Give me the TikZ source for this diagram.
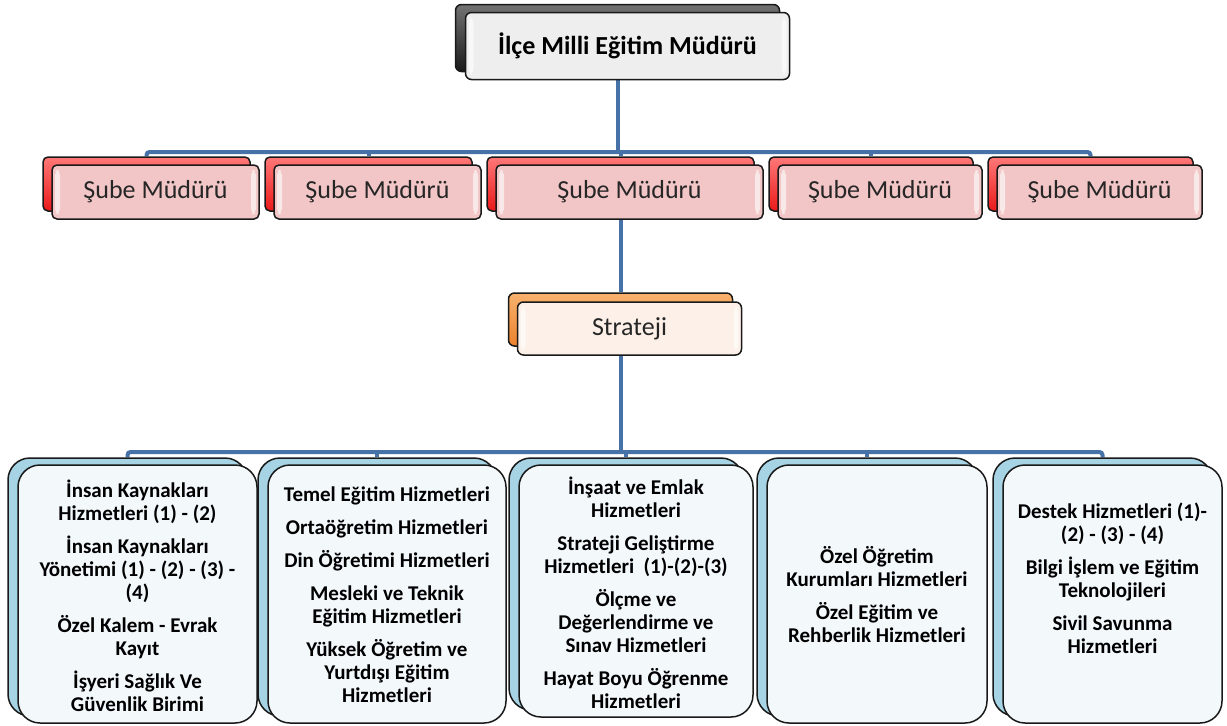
\documentclass[tikz,border=0pt]{standalone}
\usepackage{fontspec}
\setmainfont{Carlito}
\usetikzlibrary{backgrounds}
\definecolor{connc}{RGB}{70,114,168}
\definecolor{topfill}{RGB}{238,238,238}
\definecolor{redtop}{RGB}{255,120,120}
\definecolor{redbot}{RGB}{235,25,25}
\definecolor{pinkfill}{RGB}{242,198,198}
\definecolor{orgtop}{RGB}{248,178,110}
\definecolor{orgbot}{RGB}{236,130,45}
\definecolor{peachfill}{RGB}{252,240,232}
\definecolor{bluefill}{RGB}{166,212,228}
\definecolor{icefill}{RGB}{243,248,251}
\definecolor{rim}{RGB}{25,25,25}
\tikzset{
  boxbase/.style={draw=rim, line width=1.5pt, inner sep=0pt, anchor=center},
  bevel/.style={path picture={
     \fill[white,opacity=.6] ([xshift=3pt,yshift=-5pt]path picture bounding box.north west) rectangle ([xshift=8pt,yshift=5pt]path picture bounding box.south west);
     \fill[white,opacity=.6] ([xshift=-3pt,yshift=-5pt]path picture bounding box.north east) rectangle ([xshift=-8pt,yshift=5pt]path picture bounding box.south east);}},
  topback/.style={boxbase, rounded corners=6pt, top color=black!55, bottom color=black!90},
  topfront/.style={boxbase, rounded corners=6pt, fill=topfill, bevel, text=black,
     font=\fontsize{26}{30}\selectfont\bfseries},
  subeback/.style={boxbase, rounded corners=5pt, top color=redtop, bottom color=redbot},
  subefront/.style={boxbase, rounded corners=5pt, fill=pinkfill, bevel, text=black!85,
     font=\fontsize{26}{30}\selectfont},
  strback/.style={boxbase, rounded corners=6pt, top color=orgtop, bottom color=orgbot},
  strfront/.style={boxbase, rounded corners=6pt, fill=peachfill, bevel, text=black!85,
     font=\fontsize{26}{30}\selectfont},
  botback/.style={boxbase, rounded corners=22pt, fill=bluefill},
  botfront/.style={boxbase, rounded corners=22pt, fill=icefill},
  bottext/.style={inner sep=0pt, align=center, text=black, font=\fontsize{21}{23}\selectfont\bfseries},
  connector/.style={draw=connc, line width=4pt, rounded corners=3pt},
}
\begin{document}
\begin{tikzpicture}[x=1pt,y=-1pt]
\useasboundingbox (0,0) rectangle (1227,726);
% top
\node[topback, minimum width=324pt, minimum height=67pt] (tb) at (617.5,38) {};
\node[topfront, minimum width=324pt, minimum height=67pt] (tf) at (627.5,46) {İlçe Milli Eğitim Müdürü};
% sube boxes
\node[subeback, minimum width=207pt, minimum height=54pt] (s1b) at (146.5,184) {};
\node[subefront, minimum width=207pt, minimum height=54pt] (s1f) at (155.5,192) {Şube Müdürü};
\node[subeback, minimum width=207pt, minimum height=54pt] (s2b) at (368.5,184) {};
\node[subefront, minimum width=207pt, minimum height=54pt] (s2f) at (377.5,192) {Şube Müdürü};
\node[subeback, minimum width=267pt, minimum height=54pt] (s3b) at (620.5,184) {};
\node[subefront, minimum width=267pt, minimum height=54pt] (s3f) at (629.5,192) {Şube Müdürü};
\node[subeback, minimum width=204pt, minimum height=54pt] (s4b) at (871,184) {};
\node[subefront, minimum width=204pt, minimum height=54pt] (s4f) at (880,192) {Şube Müdürü};
\node[subeback, minimum width=205pt, minimum height=54pt] (s5b) at (1090.5,184) {};
\node[subefront, minimum width=205pt, minimum height=54pt] (s5f) at (1099.5,192) {Şube Müdürü};
% strateji
\node[strback, minimum width=224pt, minimum height=53pt] (stb) at (620.5,319.5) {};
\node[strfront, minimum width=224pt, minimum height=53pt] (stf) at (629.5,328.5) {Strateji};
% bottom boxes
\node[botback, minimum width=239pt, minimum height=258pt] (ab) at (127.5,587) {};
\node[botfront, minimum width=239pt, minimum height=258pt] (af) at (137.5,594) {};
\node[botback, minimum width=238pt, minimum height=258pt] (bb) at (377,587) {};
\node[botfront, minimum width=238pt, minimum height=258pt] (bf) at (387,594) {};
\node[botback, minimum width=234pt, minimum height=252pt] (cb) at (626,584) {};
\node[botfront, minimum width=234pt, minimum height=252pt] (cf) at (636,591) {};
\node[botback, minimum width=220pt, minimum height=258pt] (db) at (867,587) {};
\node[botfront, minimum width=220pt, minimum height=258pt] (df) at (877,594) {};
\node[botback, minimum width=219pt, minimum height=258pt] (eb) at (1102.5,587) {};
\node[botfront, minimum width=219pt, minimum height=258pt] (ef) at (1112.5,594) {};
% bottom texts
\node[bottext] (at) at (137.5,596) {İnsan Kaynakları\\Hizmetleri (1) - (2)\\[10pt]İnsan Kaynakları\\Yönetimi (1) - (2) - (3) -\\(4)\\[10pt]Özel Kalem - Evrak\\Kayıt\\[10pt]İşyeri Sağlık Ve\\Güvenlik Birimi};
\node[bottext] (bt) at (387,594.5) {Temel Eğitim Hizmetleri\\[10pt]Ortaöğretim Hizmetleri\\[10pt]Din Öğretimi Hizmetleri\\[10pt]Mesleki ve Teknik\\Eğitim Hizmetleri\\[10pt]Yüksek Öğretim ve\\Yurtdışı Eğitim\\Hizmetleri};
\node[bottext] (ct) at (636,592.5) {İnşaat ve Emlak\\Hizmetleri\\[10pt]Strateji Geliştirme\\Hizmetleri~ (1)-(2)-(3)\\[10pt]Ölçme ve\\Değerlendirme ve\\Sınav Hizmetleri\\[10pt]Hayat Boyu Öğrenme\\Hizmetleri};
\node[bottext] (dt) at (877,594.5) {Özel Öğretim\\Kurumları Hizmetleri\\[10pt]Özel Eğitim ve\\Rehberlik Hizmetleri};
\node[bottext] (et) at (1112.5,578.5) {Destek Hizmetleri (1)-\\(2) - (3) - (4)\\[10pt]Bilgi İşlem ve Eğitim\\Teknolojileri\\[10pt]Sivil Savunma\\Hizmetleri};
% connectors
\coordinate (bar1) at (617.5,152);
\coordinate (bar2) at (620.5,452);
\begin{scope}[on background layer]
\draw[connector] (tb.south |- tf.south) -- (bar1);
\draw[connector] (s1b.north) |- (bar1) -| (s5b.north);
\draw[connector] (s2b.north |- bar1) -- (s2b.north);
\draw[connector] (s3b.north |- bar1) -- (s3b.north);
\draw[connector] (s4b.north |- bar1) -- (s4b.north);
\draw[connector] (s3b.south |- s3f.south) -- (stb.north);
\draw[connector] (stb.south |- stf.south) -- (bar2);
\draw[connector] (ab.north) |- (bar2) -| (eb.north);
\draw[connector] (bb.north |- bar2) -- (bb.north);
\draw[connector] (cb.north |- bar2) -- (cb.north);
\draw[connector] (db.north |- bar2) -- (db.north);
\end{scope}
\end{tikzpicture}
\end{document}
